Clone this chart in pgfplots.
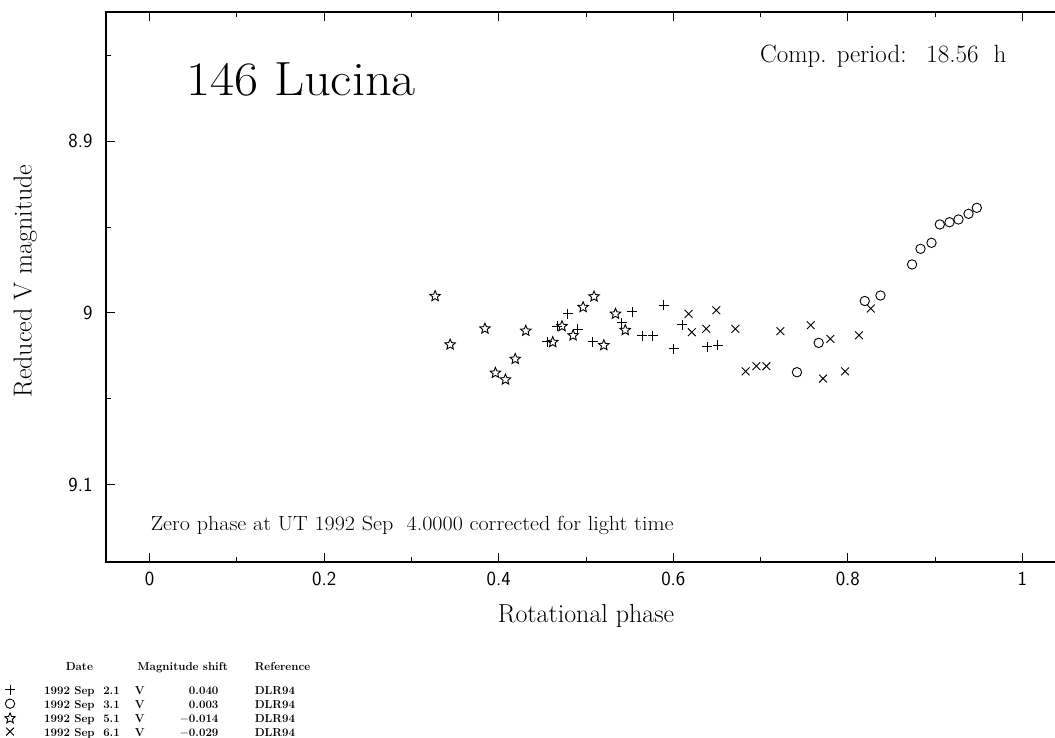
\documentclass[border=0pt]{standalone}
\usepackage{fontspec}
\usepackage{pgfplots}
\pgfplotsset{compat=1.18}

\pgfdeclareplotmark{ostar}{%
  \pgfpathmoveto{\pgfqpointpolar{90}{\pgfplotmarksize}}%
  \pgfpathlineto{\pgfqpointpolar{126}{0.45\pgfplotmarksize}}%
  \pgfpathlineto{\pgfqpointpolar{162}{\pgfplotmarksize}}%
  \pgfpathlineto{\pgfqpointpolar{198}{0.45\pgfplotmarksize}}%
  \pgfpathlineto{\pgfqpointpolar{234}{\pgfplotmarksize}}%
  \pgfpathlineto{\pgfqpointpolar{270}{0.45\pgfplotmarksize}}%
  \pgfpathlineto{\pgfqpointpolar{306}{\pgfplotmarksize}}%
  \pgfpathlineto{\pgfqpointpolar{342}{0.45\pgfplotmarksize}}%
  \pgfpathlineto{\pgfqpointpolar{18}{\pgfplotmarksize}}%
  \pgfpathlineto{\pgfqpointpolar{54}{0.45\pgfplotmarksize}}%
  \pgfpathclose
  \pgfusepathqstroke
}

\newcommand\legrow[3]{\hbox to 300pt{\bfseries\rule[-2.5pt]{0pt}{9pt}\hskip28.9pt\rlap{#1}\hskip90.6pt\rlap{#2}\hskip83.7pt\llap{#3}\hskip36.3pt\rlap{DLR94}\hfil}}
\newcommand\leghdr{\hbox to 300pt{\bfseries\rule[-11.8pt]{0pt}{9pt}\hskip50.5pt\rlap{Date}\hskip71.7pt\rlap{Magnitude shift}\hskip117.3pt\rlap{Reference}\hfil}}

\begin{document}
\begin{tikzpicture}
\useasboundingbox (0pt,0pt) rectangle (1055pt,738pt);
\begin{axis}[
  at={(106pt,176.3pt)}, anchor=south west,
  scale only axis, width=960pt, height=549.2pt,
  xmin=-0.05, xmax=1.05, ymin=8.825, ymax=9.145, y dir=reverse,
  clip=false,
  xtick={0,0.2,0.4,0.6,0.8,1},
  minor xtick={0.1,0.3,0.5,0.7,0.9},
  ytick={8.9,9,9.1},
  minor ytick={8.85,8.95,9.05},
  tick align=inside,
  major tick length=9pt, minor tick length=5pt,
  tick style={line width=1pt, black},
  axis line style={line width=2pt},
  /pgf/number format/assume math mode=true,
  tick label style={font=\fontsize{20}{24}\selectfont\sffamily},
  xticklabel style={yshift=-7pt},
  yticklabel style={xshift=-10pt},
  xlabel={Rotational phase},
  xlabel style={at={(axis description cs:0.5,-0.1116)}, anchor=base, inner sep=0pt, font=\fontsize{26}{28}\selectfont},
  ylabel={Reduced V magnitude},
  ylabel style={at={(axis description cs:-0.0774,0.511)}, anchor=base, inner sep=0pt, font=\fontsize{26}{28}\selectfont},
  legend style={at={(axis description cs:-0.10885,-0.1838)}, anchor=north west, draw=none, fill=none,
    inner sep=0pt, outer sep=0pt, row sep=2.2pt,
    font=\fontsize{11.5}{12}\selectfont\bfseries,
    nodes={inner sep=0pt, text depth=},
    /tikz/every even column/.append style={column sep=0pt}},
  legend cell align=left,
  legend image post style={yshift=1.8pt},
]
\addlegendimage{empty legend}
\addlegendentry{\leghdr}

\addplot[only marks, mark=+, mark size=5pt, line width=0.9pt, black] coordinates {
(0.4555,9.0167) (0.4670,9.0078) (0.4791,9.0006) (0.4906,9.0097) (0.5078,9.0167)
(0.5411,9.0058) (0.5528,8.9994) (0.5644,9.0132) (0.5766,9.0132) (0.5892,8.9957)
(0.6003,9.0210) (0.6103,9.0068) (0.6390,9.0198) (0.6511,9.0189)
};
\addlegendentry{\legrow{1992 Sep\ \ 2.1}{V}{0.040}}

\addplot[only marks, mark=o, mark size=4.7pt, line width=0.9pt, black] coordinates {
(0.7417,9.0346) (0.7666,9.0175) (0.8194,8.9931) (0.8374,8.9899) (0.8736,8.9718)
(0.8833,8.9627) (0.8959,8.9592) (0.9054,8.9485) (0.9165,8.9472) (0.9268,8.9456)
(0.9383,8.9423) (0.9478,8.9388)
};
\addlegendentry{\legrow{1992 Sep\ \ 3.1}{V}{0.003}}

\addplot[only marks, mark=ostar, mark size=5.5pt, line width=0.9pt, black] coordinates {
(0.3271,8.9903) (0.3443,9.0185) (0.3842,9.0092) (0.3962,9.0350) (0.4077,9.0389)
(0.4189,9.0269) (0.4310,9.0105) (0.4619,9.0171) (0.4725,9.0078) (0.4852,9.0132)
(0.4967,8.9967) (0.5092,8.9905) (0.5204,9.0189) (0.5338,9.0006) (0.5450,9.0101)
};
\addlegendentry{\legrow{1992 Sep\ \ 5.1}{V}{$-$0.014}}

\addplot[only marks, mark=x, mark size=5.5pt, line width=0.9pt, black] coordinates {
(0.6175,9.0006) (0.6213,9.0113) (0.6378,9.0093) (0.6493,8.9985) (0.6711,9.0093)
(0.6829,9.0341) (0.6952,9.0311) (0.7067,9.0311) (0.7227,9.0107) (0.7575,9.0072)
(0.7716,9.0383) (0.7800,9.0152) (0.7968,9.0341) (0.8128,9.0131) (0.8263,8.9975)
};
\addlegendentry{\legrow{1992 Sep\ \ 6.1}{V}{$-$0.029}}

\node[anchor=base west, inner sep=0pt, xscale=1.09, font=\fontsize{48}{52}\selectfont] at (axis description cs:0.0833,0.8488) {146 Lucina};
\node[anchor=base west, inner sep=0pt, font=\fontsize{25}{28}\selectfont] at (axis description cs:0.68125,0.9090) {Comp. period:};
\node[anchor=base east, inner sep=0pt, font=\fontsize{25}{28}\selectfont] at (axis description cs:0.9382,0.9090) {18.56\ \ h};
\node[anchor=base west, inner sep=0pt, xscale=1.078, font=\fontsize{20.5}{22}\selectfont] at (axis description cs:0.0464,0.0577) {Zero phase at UT 1992 Sep\ \ 4.0000 corrected for light time};
\end{axis}
\end{tikzpicture}
\end{document}
